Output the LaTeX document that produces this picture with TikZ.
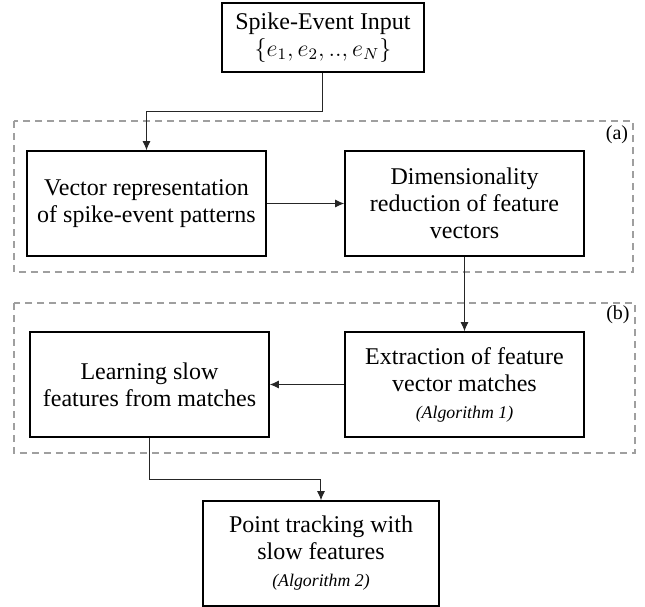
\documentclass[tikz,border=0pt]{standalone}
\usepackage{fontspec}
\setmainfont{Liberation Serif}
\usetikzlibrary{shapes,arrows,arrows.meta,positioning}
\tikzstyle{block} = [rectangle, draw, line width=0.8pt, align=center,
    minimum width=119.5pt, minimum height=52.5pt, inner sep=0pt,
    font=\fontsize{12}{13.5}\selectfont]
\tikzstyle{line} = [draw, black!85, line width=0.5pt, -{Latex[length=4.5pt,width=4pt]}]
\tikzstyle{group} = [draw, gray!75, line width=0.7pt, dash pattern=on 3.5pt off 2.5pt]
\tikzstyle{tag} = [inner sep=0pt, font=\fontsize{10}{12}\selectfont]
\newcommand{\algnote}[1]{{\fontsize{8.9}{11}\selectfont\itshape (#1)}}

\begin{document}
\begin{tikzpicture}[x=0.5pt, y=-0.5pt, node distance = 159pt, auto]
    \useasboundingbox (0,0) rectangle (645,607);

    % Place nodes
    \node [block, minimum width=101pt, minimum height=34.5pt] (input) at (323,37.5)
        {Spike-Event Input \\ $\{e_1, e_2, .., e_N\}$};
    \node [block] (vecrep) at (146.5,203.5) {Vector representation \\ of spike-event patterns};
    \node [block, right of=vecrep] (dimred) {Dimensionality \\ reduction of feature \\ vectors};
    \node [block, below of=dimred, node distance=90.5pt] (extract)
        {Extraction of feature \\ vector matches \\ \algnote{Algorithm 1}};
    \node [block, left of=extract, node distance=157.5pt] (learn) {Learning slow \\ features from matches};
    \node [block, minimum width=118pt] (track) at (321,553.5)
        {Point tracking with \\ slow features \\ \algnote{Algorithm 2}};

    % Dashed groups
    \draw [group] (14,121) rectangle (633,272);
    \draw [group] (14,303) rectangle (635,453);
    \node [tag] (taga) at (617,135) {(a)};
    \node [tag] (tagb) at (618,315) {(b)};

    % Draw edges
    \path [line] (input.south) -- ++(0,39) -| (vecrep.north);
    \path [line] (vecrep) -- (dimred);
    \path [line] (dimred) -- (extract);
    \path [line] (extract) -- (learn);
    \path [line] (learn.south) -- ++(0,42) -| (track.north);

\end{tikzpicture}
\end{document}
